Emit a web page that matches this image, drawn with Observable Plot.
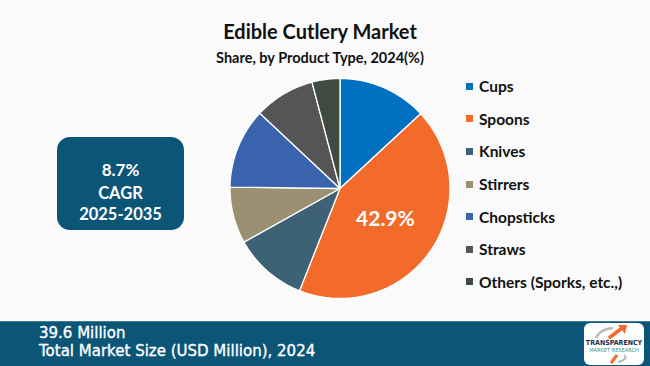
<!DOCTYPE html>
<html>
<head>
<meta charset="utf-8">
<script src="https://cdn.jsdelivr.net/npm/d3@7"></script>
<script src="https://cdn.jsdelivr.net/npm/@observablehq/plot@0.6"></script>
<style>
  html, body { margin: 0; padding: 0; }
  body { width: 650px; height: 366px; background: #fafafa; position: relative; overflow: hidden; font-family: Lato, "Open Sans", sans-serif; }
  #chart { position: absolute; left: 0; top: 0; }
  .title { position: absolute; left: 0; width: 640px; text-align: center; color: #111; font-weight: 700; }
  #t1 { top: 19px; font-size: 20px; }
  #t2 { top: 49px; font-size: 14.5px; }
  #legend { position: absolute; left: 466px; top: 70px; }
  .li { display: flex; align-items: center; height: 32.6px; font-size: 15.5px; font-weight: 700; color: #111; }
  .sw { width: 7px; height: 7px; margin-right: 6px; }
  #cagr { position: absolute; left: 57px; top: 137px; width: 127px; height: 93px; border-radius: 13px; background: #0b5577; color: #fff; text-align: center; font-weight: 700; font-family: Lato, sans-serif; }
  #footer { position: absolute; left: 0; top: 321px; width: 650px; height: 45px; background: #0b5577; border-top: 1px solid #3f7d99; color: #fff; font-family: "DejaVu Sans", sans-serif; -webkit-text-stroke: 0.35px #fff; }
  #logo { position: absolute; left: 584px; top: 1px; width: 60px; height: 42px; background: #fff; border-radius: 6px; -webkit-text-stroke: 0; }
</style>
</head>
<body>
<div id="chart"></div>
<div class="title" id="t1">Edible Cutlery Market</div>
<div class="title" id="t2">Share, by Product Type, 2024(%)</div>
<div id="legend"></div>
<div id="cagr">
  <div style="position:absolute;left:0;width:100%;top:22px;font-size:17px;">8.7%</div>
  <div style="position:absolute;left:0;width:100%;top:46px;font-size:16.5px;">CAGR</div>
  <div style="position:absolute;left:0;width:100%;top:67px;font-size:16.5px;">2025-2035</div>
</div>
<div id="footer">
  <div style="position:absolute;left:39px;top:2px;font-size:15px;">39.6 Million</div>
  <div style="position:absolute;left:39px;top:20px;font-size:15px;">Total Market Size (USD Million), 2024</div>
  <div id="logo">
    <svg width="60" height="42">
      <path d="M12 15 Q16 6 29 5" fill="none" stroke="#bbb" stroke-width="2.5"/>
      <path d="M25 15 L38 5" stroke="#f26b2a" stroke-width="3.5"/>
      <path d="M34 2 L43 2 L41 11 Z" fill="#f26b2a"/>
      <text x="30" y="22" text-anchor="middle" font-size="7" font-weight="700" fill="#1d2d44" font-family="DejaVu Sans Condensed, sans-serif">TRANSPARENCY</text>
      <text x="30" y="28.5" text-anchor="middle" font-size="5.6" fill="#3a9a8a" font-family="DejaVu Sans Condensed, sans-serif">MARKET RESEARCH</text>
      <path d="M27 40 L33 32" stroke="#f26b2a" stroke-width="3"/>
      <path d="M40 32 Q45 36 34 39" fill="none" stroke="#bbb" stroke-width="2"/>
    </svg>
  </div>
</div>
<script>
const categories = ["Cups", "Spoons", "Knives", "Stirrers", "Chopsticks", "Straws", "Others (Sporks, etc.,)"];
const shares = [13.1, 42.9, 10.9, 8.3, 11.8, 8.9, 4.1];
const colors = ["#0070c0", "#f36b2b", "#3d6276", "#9b9072", "#3a63ae", "#555557", "#3f4a42"];
const labelText = ["", "42.9%", "", "", "", "", ""];

const total = d3.sum(shares);
const slices = [];
let acc = 0;
categories.forEach((c, i) => {
  const a0 = acc / total * 2 * Math.PI;
  acc += shares[i];
  const a1 = acc / total * 2 * Math.PI;
  slices.push({category: c, a0, a1, value: shares[i], label: labelText[i]});
});

const pts = [];
for (const s of slices) {
  pts.push({category: s.category, x: 0, y: 0});
  const n = Math.max(2, Math.ceil((s.a1 - s.a0) / (Math.PI / 180)));
  for (let k = 0; k <= n; k++) {
    const a = s.a0 + (s.a1 - s.a0) * k / n;
    pts.push({category: s.category, x: Math.sin(a), y: Math.cos(a)});
  }
}
const labels = slices.filter(s => s.label).map(s => {
  const m = (s.a0 + s.a1) / 2;
  return {x: 0.5 * Math.sin(m), y: 0.5 * Math.cos(m), text: s.label};
});

const plot = Plot.plot({
  width: 650,
  height: 366,
  marginLeft: 229.5,
  marginRight: 200.5,
  marginTop: 78,
  marginBottom: 68,
  x: {domain: [-1, 1], axis: null},
  y: {domain: [-1, 1], axis: null},
  color: {domain: categories, range: colors},
  style: {background: "transparent"},
  marks: [
    Plot.line(pts, {x: "x", y: "y", z: "category", fill: "category", stroke: "white", strokeWidth: 1.3, curve: "linear-closed"}),
    Plot.text(labels, {x: "x", y: "y", text: "text", fill: "white", fontSize: 21, fontWeight: "bold", fontFamily: "Lato, sans-serif"})
  ]
});
document.getElementById("chart").appendChild(plot);

const legend = document.getElementById("legend");
categories.forEach((c, i) => {
  const row = document.createElement("div");
  row.className = "li";
  const sw = document.createElement("span");
  sw.className = "sw";
  sw.style.background = colors[i];
  row.appendChild(sw);
  row.appendChild(document.createTextNode(c));
  legend.appendChild(row);
});
</script>
</body>
</html>
